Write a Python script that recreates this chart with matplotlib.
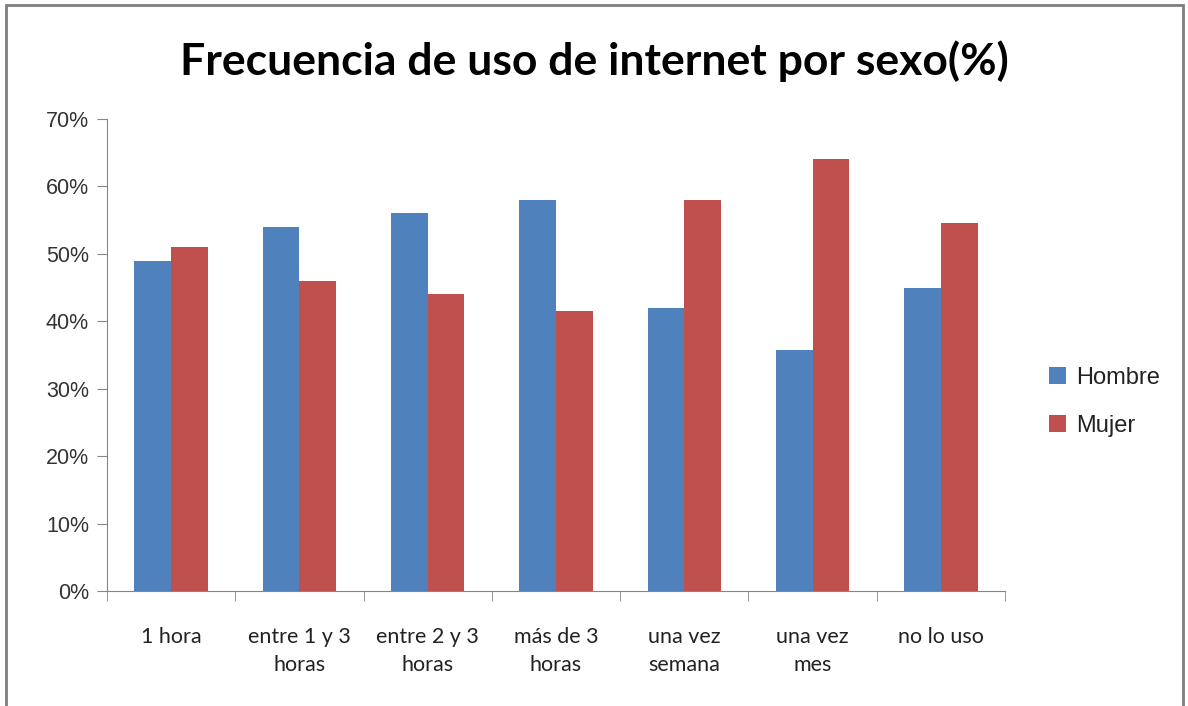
import matplotlib
matplotlib.use("Agg")
import matplotlib.pyplot as plt
from matplotlib.patches import Rectangle
import numpy as np

categories = ["1 hora", "entre 1 y 3\nhoras", "entre 2 y 3\nhoras", "más de 3\nhoras",
              "una vez\nsemana", "una vez\nmes", "no lo uso"]
hombre = [49, 54, 56, 58, 42, 35.7, 45]
mujer = [51, 46, 44, 41.5, 58, 64, 54.6]
yticks = [0, 10, 20, 30, 40, 50, 60, 70]
ytick_labels = ["0%", "10%", "20%", "30%", "40%", "50%", "60%", "70%"]

fig = plt.figure(figsize=(11.88, 7.06), dpi=100)
ax = fig.add_axes([107/1188, 1-591/706, (1005-107)/1188, (591-119)/706])

x = np.arange(len(categories))
w = 1/3.5
ax.bar(x - w/2, hombre, w, color="#4F81BD", label="Hombre")
ax.bar(x + w/2, mujer, w, color="#C0504D", label="Mujer")

ax.set_xlim(-0.5, len(categories) - 0.5)
ax.set_ylim(0, 70)
ax.set_yticks(yticks)
ax.set_yticklabels(ytick_labels, fontsize=15.5, family=["Liberation Sans", "DejaVu Sans"], color="#333333")
ax.set_xticks(x)
ax.set_xticklabels(categories, fontsize=15.5, family=["Lato", "DejaVu Sans"], linespacing=1.5,
                   color="#222222")
ax.set_xticks(np.arange(len(categories) + 1) - 0.5, minor=True)
ax.tick_params(axis="x", which="major", length=0, pad=26)
ax.tick_params(axis="x", which="minor", length=7, color="#868686")
ax.tick_params(axis="y", length=7, color="#868686", pad=6)
for s in ["top", "right"]:
    ax.spines[s].set_visible(False)
for s in ["left", "bottom"]:
    ax.spines[s].set_color("#868686")

fig.text(0.5, 1-61/706, "Frecuencia de uso de internet por sexo(%)", ha="center", va="center",
         fontsize=32, fontweight="bold", family=["Lato", "DejaVu Sans"])

leg = fig.legend(handles=ax.containers, labels=["Hombre", "Mujer"], loc="center left",
                 bbox_to_anchor=(1028/1188, 1-402/706), frameon=False,
                 prop={"family": ["Liberation Sans", "DejaVu Sans"], "size": 17},
                 handlelength=0.7, handleheight=0.7, labelspacing=1.1, handletextpad=0.45)
for t in leg.get_texts():
    t.set_color("#222222")

fig.patches.append(Rectangle((6/1188, -0.05), (1183-6)/1188, 1 - 5/706 + 0.05,
                             transform=fig.transFigure, fill=False, edgecolor="#7F7F7F", linewidth=2))

fig.savefig("out.png", dpi=100)
